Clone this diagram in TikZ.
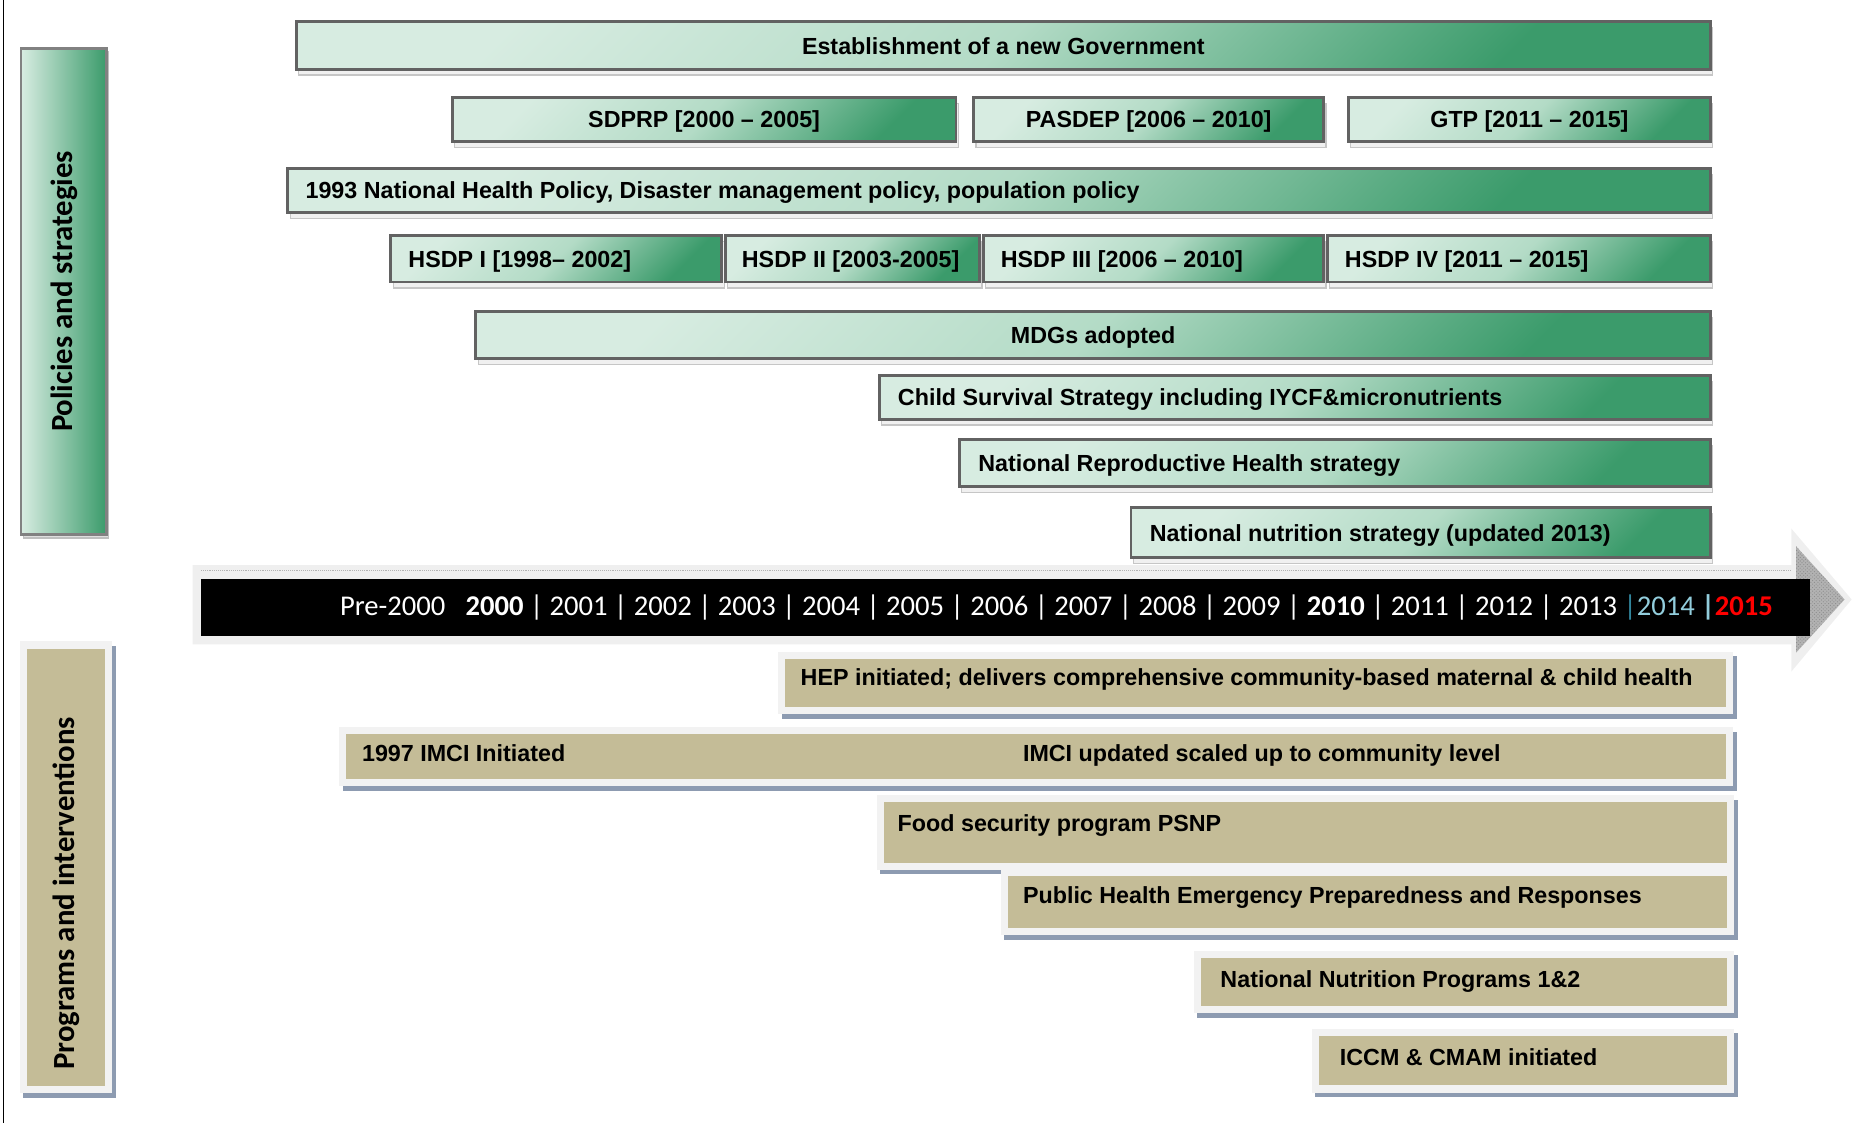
\documentclass[tikz,border=0pt]{standalone}
\usepackage{fontspec}
\setmainfont{Liberation Sans}
\newfontfamily\calibri{Carlito}
\usepackage{tikz}
\usetikzlibrary{shadows}
\usetikzlibrary{patterns}

\definecolor{mint}{HTML}{D7ECE1}
\definecolor{midgreen}{HTML}{B3DBC6}
\definecolor{deepgreen}{HTML}{3B9B6B}
\definecolor{boxline}{HTML}{626262}
\definecolor{programtan}{HTML}{C4BC97}
\definecolor{tanrim}{HTML}{F2F2F2}
\definecolor{tanshadow}{HTML}{8D9BB1}
\definecolor{bandgray}{HTML}{EFEFEF}
\definecolor{yearblue}{HTML}{92CDDC}
\definecolor{yearteal}{HTML}{31859C}

\newcommand{\boxfont}{\fontsize{19.7}{22}\selectfont\bfseries}
\newcommand{\sidefont}{\calibri\fontsize{26}{30}\selectfont\bfseries}

\begin{document}
\begin{tikzpicture}[x=1pt,y=-1pt,
    green box/.style={draw=boxline,line width=2.5pt,top color=mint,bottom color=deepgreen,middle color=midgreen,shading angle=45,
      general shadow={shadow xshift=2pt,shadow yshift=-5pt,fill=gray!12,draw=gray!45,line width=1pt},
      font=\boxfont,inner sep=0pt,text height=16.5pt,text depth=2pt},
    tan box/.style={fill=programtan,draw=tanrim,line width=6pt,
      general shadow={shadow xshift=3pt,shadow yshift=-4pt,fill=tanshadow,draw=tanshadow,line width=6pt},
      font=\boxfont,inner sep=0pt},
    box text/.style={font=\boxfont,anchor=west,inner sep=0pt,text height=10.5pt,text depth=2pt},
    green text/.style={box text,text height=16.5pt}]
      \useasboundingbox (0,0) rectangle (1568,950);
      \draw[line width=1.2pt] (3,0) -- (3,950);

      % side labels
      \node[draw=boxline!80,line width=2pt,left color=mint,right color=deepgreen,
        general shadow={shadow xshift=2pt,shadow yshift=-3pt,fill=gray!25,draw=gray!50,line width=1pt},
        minimum width=72pt,minimum height=411pt] (policies) at (54,246.5) {};
      \node[rotate=90,font=\sidefont] (policies text) at (policies.center) {Policies and strategies};
      \node[tan box,minimum width=72.5pt,minimum height=376pt] (programs) at (55.75,733.5) {};
      \node[rotate=90,font=\sidefont] (programs text) at ([yshift=-22pt]programs.center) {Programs and interventions};

      % policies and strategies
      \node[green box,minimum width=1196pt,minimum height=40pt] (govt) at (848.5,38.5) {Establishment of a new Government};
      \node[green box,minimum width=426pt,minimum height=37pt] (sdprp) at (595.5,101) {SDPRP [2000 – 2005]};
      \node[green box,minimum width=296pt,minimum height=37pt] (pasdep) at (971.5,101) {PASDEP [2006 – 2010]};
      \node[green box,minimum width=306pt,minimum height=37pt] (gtp) at (1293.5,101) {GTP [2011 – 2015]};
      \node[green box,minimum width=1203pt,minimum height=37pt] (policy) at (845,161) {};
      \node[green text] (policy text) at ([xshift=16pt]policy.west) {1993 National Health Policy, Disaster management policy, population policy};
      \node[green box,minimum width=280pt,minimum height=39pt] (hsdp1) at (470.5,219) {};
      \node[green text] (hsdp1 text) at ([xshift=16pt]hsdp1.west) {HSDP I [1998– 2002]};
      \node[green box,minimum width=215pt,minimum height=39pt] (hsdp2) at (721,219) {};
      \node[green text] (hsdp2 text) at ([xshift=15pt]hsdp2.west) {HSDP II [2003-2005]};
      \node[green box,minimum width=288pt,minimum height=39pt] (hsdp3) at (975.5,219) {};
      \node[green text] (hsdp3 text) at ([xshift=16pt]hsdp3.west) {HSDP III [2006 – 2010]};
      \node[green box,minimum width=324pt,minimum height=39pt] (hsdp4) at (1284.5,219) {};
      \node[green text] (hsdp4 text) at ([xshift=16pt]hsdp4.west) {HSDP IV [2011 – 2015]};
      \node[green box,minimum width=1044pt,minimum height=40pt] (mdg) at (924.5,283.5) {MDGs adopted};
      \node[green box,minimum width=703pt,minimum height=37pt] (child) at (1095,336) {};
      \node[green text] (child text) at ([xshift=17pt]child.west) {Child Survival Strategy including IYCF\&micronutrients};
      \node[green box,minimum width=635pt,minimum height=40pt] (rh) at (1129,391.5) {};
      \node[green text] (rh text) at ([xshift=17pt]rh.west) {National Reproductive Health strategy};
      \node[green box,minimum width=490pt,minimum height=42pt] (nns) at (1201.5,450.5) {};
      \node[green text] (nns text) at ([xshift=17pt]nns.west) {National nutrition strategy (updated 2013)};

      % time line
      \fill[bandgray] (163,478) -- (1515,478) -- (1515,447) -- (1566,507) -- (1515,568) -- (1515,545) -- (163,545) -- cycle;
      \fill[gray!60] (1519,462) -- (1560,507) -- (1519,552) -- cycle;
      \fill[pattern=crosshatch dots,pattern color=gray!90] (1519,462) -- (1560,507) -- (1519,552) -- cycle;
      \draw[gray!60,densely dotted,line width=0.6pt] (170,482) -- (1515,482);
      \node[fill=black,inner sep=0pt,minimum width=1361pt,minimum height=48pt] (timeline) at (850.5,514) {};
      \node[font=\calibri\fontsize{24.2}{28}\selectfont,text=white,inner sep=0pt] (years) at (893.5,513.5)
        {Pre-2000\hspace{17pt}\textbf{2000} | 2001 | 2002 | 2003 | 2004 | 2005 | 2006 | 2007 | 2008 | 2009 | \textbf{2010} | 2011 | 2012 | 2013 {\color{yearteal}|}{\color{yearblue}2014} {\color{yearblue}\textbf{|}}{\color{red}\textbf{2015}}};

      % programs and interventions
      \node[tan box,minimum width=802pt,minimum height=47pt] (hep) at (1062,577.5) {};
      \node[box text] (hep text) at ([xshift=19pt,yshift=2pt]hep.west) {HEP initiated; delivers comprehensive community-based maternal \& child health};
      \node[tan box,minimum width=1173pt,minimum height=44pt] (imci) at (876.5,640) {};
      \node[box text] (imci text) at ([xshift=19pt]imci.west) {1997 IMCI Initiated};
      \node[box text] (imci update) at (865,640) {IMCI updated scaled up to community level};
      \node[tan box,minimum width=719pt,minimum height=57pt] (psnp) at (1104,704) {};
      \node[box text] (psnp text) at ([xshift=17.5pt,yshift=5pt]psnp.west) {Food security program PSNP};
      \node[tan box,minimum width=614pt,minimum height=50.5pt] (phem) at (1156.5,762.75) {};
      \node[box text] (phem text) at ([xshift=18.5pt,yshift=3pt]phem.west) {Public Health Emergency Preparedness and Responses};
      \node[tan box,minimum width=451pt,minimum height=47pt] (nnp) at (1238,830.5) {};
      \node[box text] (nnp text) at ([xshift=22.5pt]nnp.west) {National Nutrition Programs 1\&2};
      \node[tan box,minimum width=351pt,minimum height=48pt] (iccm) at (1288,897) {};
      \node[box text] (iccm text) at ([xshift=23.5pt]iccm.west) {ICCM \& CMAM initiated};
\end{tikzpicture}
\end{document}
